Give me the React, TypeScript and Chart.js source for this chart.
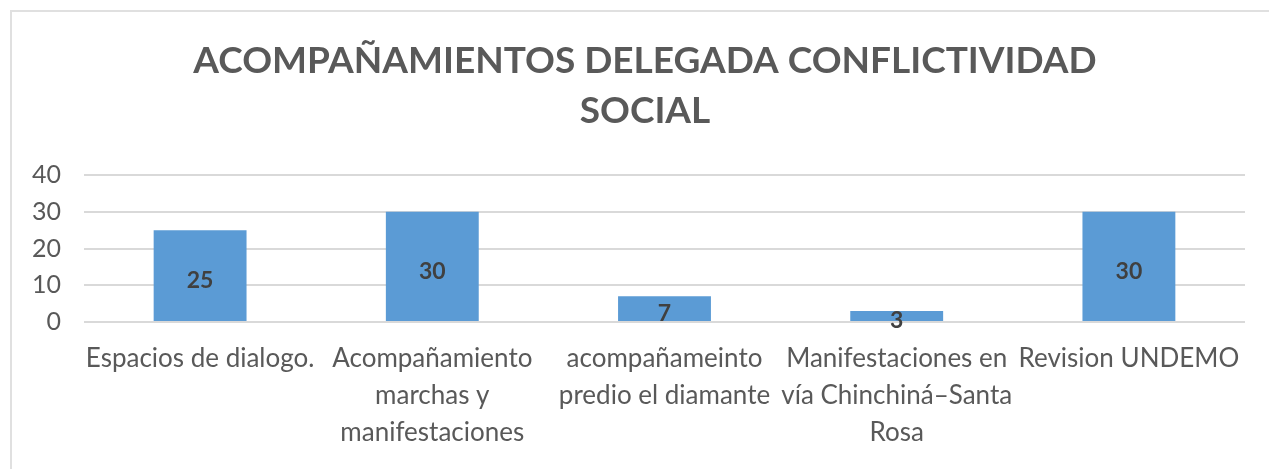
import React, { useEffect, useRef } from "react";
import { Chart, registerables } from "chart.js";

Chart.register(...registerables);

const titleLines = ["ACOMPAÑAMIENTOS DELEGADA CONFLICTIVIDAD", "SOCIAL"];
const categories: string[][] = [
  ["Espacios de dialogo."],
  ["Acompañamiento", "marchas y", "manifestaciones"],
  ["acompañameinto", "predio el diamante"],
  ["Manifestaciones en", "vía Chinchiná–Santa", "Rosa"],
  ["Revision UNDEMO"],
];
const values = [25, 30, 7, 3, 30];
const yTicks = [0, 10, 20, 30, 40];

const FONT = "Lato, 'Open Sans', sans-serif";

const barLabels = {
  id: "barLabels",
  afterDatasetsDraw(chart: any) {
    const ctx = chart.ctx;
    const meta = chart.getDatasetMeta(0);
    ctx.save();
    ctx.font = `bold 23px ${FONT}`;
    ctx.fillStyle = "#404040";
    ctx.textAlign = "center";
    ctx.textBaseline = "middle";
    meta.data.forEach((bar: any, i: number) => {
      const v = chart.data.datasets[0].data[i];
      const yMid = (bar.y + bar.base) / 2;
      ctx.fillText(String(v), bar.x, yMid + 5);
    });
    ctx.restore();
  },
};

const shiftTitle = {
  id: "shiftTitle",
  afterLayout(chart: any) {
    const t = chart.titleBlock;
    if (t) {
      t.left += 45;
      t.right += 0;
    }
  },
};

export default function App() {
  const ref = useRef<HTMLCanvasElement | null>(null);
  useEffect(() => {
    if (!ref.current) return;
    const chart = new Chart(ref.current, {
      type: "bar",
      data: {
        labels: categories,
        datasets: [
          {
            data: values,
            backgroundColor: "#5B9BD5",
            borderWidth: 0,
            categoryPercentage: 0.4,
            barPercentage: 1,
          },
        ],
      },
      options: {
        animation: false,
        responsive: false,
        maintainAspectRatio: false,
        layout: { padding: { left: 0, right: 24, top: 0, bottom: 0 } },
        plugins: {
          legend: { display: false },
          tooltip: { enabled: false },
          title: {
            display: true,
            text: titleLines,
            color: "#595959",
            font: { family: FONT, size: 37, weight: "bold", lineHeight: 50 / 37 },
            padding: { top: 36, bottom: 39 },
          },
        },
        scales: {
          x: {
            grid: { display: false, drawTicks: false },
            border: { display: false },
            ticks: {
              color: "#595959",
              font: { family: FONT, size: 26, lineHeight: 37 / 26 },
              maxRotation: 0,
              minRotation: 0,
              autoSkip: false,
              padding: 18,
            },
            afterFit: (s: any) => {
              s.height = 147;
            },
          },
          y: {
            min: 0,
            max: 40,
            grid: { color: "#d9d9d9", lineWidth: 2, drawTicks: false },
            border: { display: false },
            ticks: {
              stepSize: 10,
              color: "#595959",
              font: { family: FONT, size: 25 },
              padding: 23,
              callback: (v: any) => (yTicks.includes(Number(v)) ? String(v) : ""),
            },
            afterFit: (s: any) => {
              s.width = 84;
            },
          },
        },
      },
      plugins: [shiftTitle, barLabels],
    });
    return () => chart.destroy();
  }, []);

  return (
    <div
      style={{
        position: "fixed",
        left: 0,
        top: 0,
        width: 1269,
        height: 469,
        background: "#fff",
        overflow: "hidden",
      }}
    >
      <div
        style={{
          position: "absolute",
          left: 10,
          top: 10,
          width: 1300,
          height: 500,
          borderLeft: "2px solid #e0e0e0",
          borderTop: "2px solid #e0e0e0",
        }}
      />
      <canvas
        ref={ref}
        width={1269}
        height={469}
        style={{ position: "absolute", left: 0, top: 0, width: 1269, height: 469 }}
      />
    </div>
  );
}
